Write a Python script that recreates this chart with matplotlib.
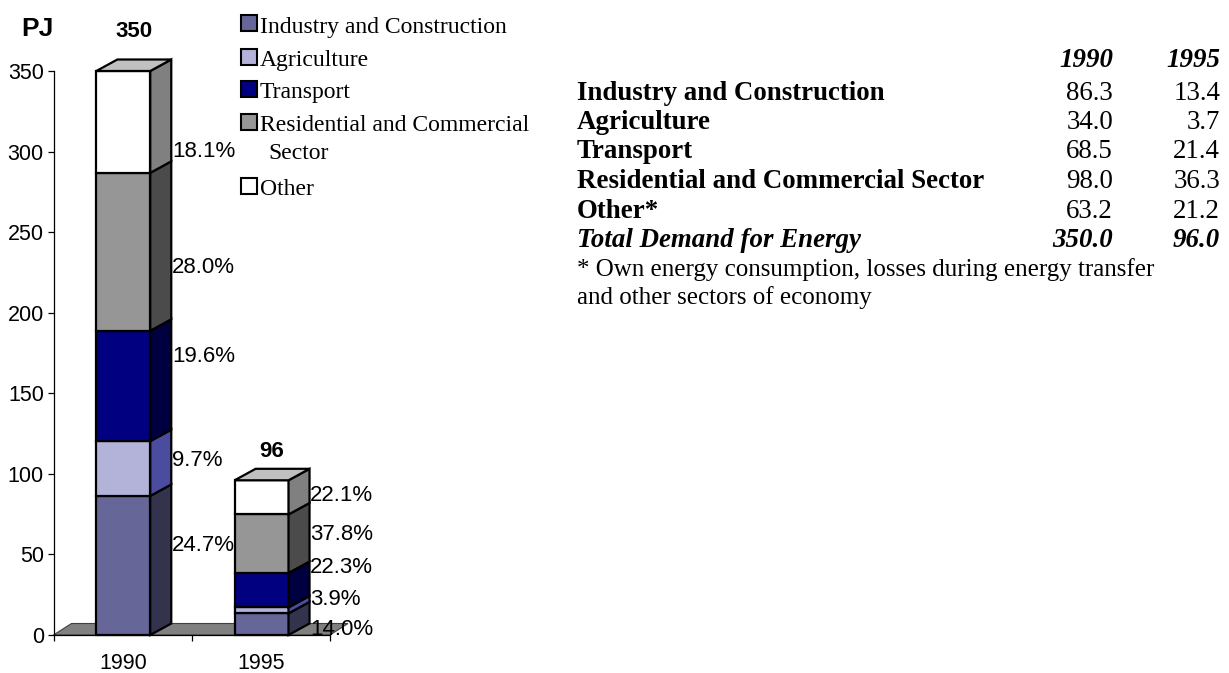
import numpy as np
import matplotlib
matplotlib.use('Agg')
import matplotlib.pyplot as plt
from matplotlib.patches import Polygon, Rectangle

years = ['1990', '1995']
sectors = ['Industry and Construction', 'Agriculture', 'Transport',
           'Residential and Commercial Sector', 'Other']
industry = [86.3, 13.4]
agriculture = [34.0, 3.7]
transport = [68.5, 21.4]
residential = [98.0, 36.3]
other = [63.2, 21.2]
totals = [350.0, 96.0]
y_ticks = [0, 50, 100, 150, 200, 250, 300, 350]

# table text
table_rows = ['Industry and Construction', 'Agriculture', 'Transport',
              'Residential and Commercial Sector', 'Other*']
total_label = 'Total Demand for Energy'
footnote = ['* Own energy consumption, losses during energy transfer',
            'and other sectors of economy']

# styles
front_cols = ['#666699', '#b3b3d9', '#000080', '#969696', '#ffffff']
side_cols = ['#33334d', '#4b4ba0', '#000040', '#4b4b4b', '#808080']
top_cols = ['#8c8cb3', '#d0d0ea', '#3030a0', '#b4b4b4', '#c0c0c0']
# nudges of the percent labels from segment middle (data units)
pct_nudge = [[14, 6.5, 20, -8.5, -16.5], [-1.6, 8.5, 15.6, 7.5, 2.9]]
total_pad_px = [22.7, 11.6]

W, H = 1229, 673
fig = plt.figure(figsize=(W / 100, H / 100), dpi=100)


def fx(px):
    return px / W


def fy(py):
    return 1 - py / H


sans = 'Liberation Sans'
serif = 'Liberation Serif'

ax_l, ax_r, ax_t, ax_b = 53.5, 330, 71, 635
ax = fig.add_axes([fx(ax_l), fy(ax_b), (ax_r - ax_l) / W, (ax_b - ax_t) / H])
ax.set_xlim(0, 2)
ax.set_ylim(0, 350)
ppx = (ax_r - ax_l) / 2.0   # px per x unit
ppy = (ax_b - ax_t) / 350.0  # px per y unit

bar_dx, bar_dy = 21 / ppx, 11.5 / ppy
floor_dx, floor_dy = 18 / ppx, 11.5 / ppy
width = 0.39
xpos = np.arange(len(years)) + 0.505

# floor
ax.add_patch(Polygon([(0, 0), (2, 0), (2 + floor_dx, floor_dy), (floor_dx, floor_dy)],
                     closed=True, facecolor='#808080', edgecolor='#404040',
                     lw=0.8, zorder=1, clip_on=False))

series = [industry, agriculture, transport, residential, other]
for j, x in enumerate(xpos):
    bottom = 0
    for i, s in enumerate(series):
        v = s[j]
        x0, x1 = x - width / 2, x + width / 2
        ax.bar(x, v, width=width, bottom=bottom, color=front_cols[i],
               edgecolor='black', lw=1.6, zorder=3, clip_on=False)
        ax.add_patch(Polygon([(x1, bottom), (x1 + bar_dx, bottom + bar_dy),
                              (x1 + bar_dx, bottom + v + bar_dy), (x1, bottom + v)],
                             closed=True, facecolor=side_cols[i], edgecolor='black',
                             lw=1.6, zorder=3, clip_on=False))
        if i == len(series) - 1:
            ax.add_patch(Polygon([(x0, bottom + v), (x1, bottom + v),
                                  (x1 + bar_dx, bottom + v + bar_dy),
                                  (x0 + bar_dx, bottom + v + bar_dy)],
                                 closed=True, facecolor=top_cols[i], edgecolor='black',
                                 lw=1.6, zorder=3, clip_on=False))
        pct = v / totals[j] * 100
        ax.text(x1 + bar_dx + 0.005, bottom + v / 2 + pct_nudge[j][i] - 2.5 / ppy,
                '%.1f%%' % pct, fontsize=16, family=sans, ha='left', va='center',
                zorder=5)
        bottom += v
    ax.annotate('%d' % totals[j], (x + bar_dx / 2, totals[j] + bar_dy),
                xytext=(0, total_pad_px[j] * 0.72), textcoords='offset points',
                ha='center', va='baseline', fontsize=16, fontweight='bold',
                family=sans, annotation_clip=False)
    ax.annotate(years[j], (x, 0), xytext=(0, -34 * 0.72), textcoords='offset points',
                ha='center', va='baseline', fontsize=15.5, family=sans,
                annotation_clip=False)

for side in ['top', 'right']:
    ax.spines[side].set_visible(False)
for side in ['left', 'bottom']:
    ax.spines[side].set_linewidth(0.9)
ax.set_yticks(y_ticks)
ax.set_yticklabels([str(t) for t in y_ticks], fontsize=15.5, family=sans)
ax.set_xticks([0, 1, 2])
ax.set_xticklabels([])
ax.tick_params(axis='y', length=4, width=0.9, pad=3)
ax.tick_params(axis='x', length=4, width=0.9, direction='out')
ax.patch.set_visible(False)

fig.text(fx(21.7), fy(36), 'PJ', fontsize=19, fontweight='bold', family=sans,
         ha='left', va='baseline')

# legend
leg_marker_y = [22.7, 57, 88.7, 121.7, 186]
leg_text = [('Industry and Construction', 260, 32.7),
            ('Agriculture', 260, 66),
            ('Transport', 260, 98.3),
            ('Residential and Commercial', 260, 130.7),
            ('Sector', 268.3, 159.3),
            ('Other', 260, 195)]
for i, my in enumerate(leg_marker_y):
    fig.patches.append(Rectangle((fx(241), fy(my + 7.8)), 16 / W, 15.6 / H,
                                 transform=fig.transFigure, facecolor=front_cols[i],
                                 edgecolor='black', lw=1.5))
for t, px, py in leg_text:
    fig.text(fx(px), fy(py), t, fontsize=17, family=serif, ha='left', va='baseline')

# table
col_x = [1113, 1220]
row_base = [99.5, 129, 158.5, 188, 217.5]
tsize = 19.4
for j, yr in enumerate(years):
    fig.text(fx(col_x[j]), fy(67), yr, fontsize=tsize, family=serif,
             fontweight='bold', style='italic', ha='right', va='baseline')
for i, name in enumerate(table_rows):
    fig.text(fx(577), fy(row_base[i]), name, fontsize=tsize, family=serif,
             fontweight='bold', ha='left', va='baseline')
    for j in range(len(years)):
        fig.text(fx(col_x[j]), fy(row_base[i]), '%.1f' % series[i][j], fontsize=tsize,
                 family=serif, ha='right', va='baseline')
fig.text(fx(577), fy(247), total_label, fontsize=tsize, family=serif,
         fontweight='bold', style='italic', ha='left', va='baseline')
for j in range(len(years)):
    fig.text(fx(col_x[j]), fy(247), '%.1f' % totals[j], fontsize=tsize, family=serif,
             fontweight='bold', style='italic', ha='right', va='baseline')
for k, line in enumerate(footnote):
    fig.text(fx(577), fy(276 + 28 * k), line, fontsize=18, family=serif,
             ha='left', va='baseline')

fig.savefig('out.png', dpi=100)
